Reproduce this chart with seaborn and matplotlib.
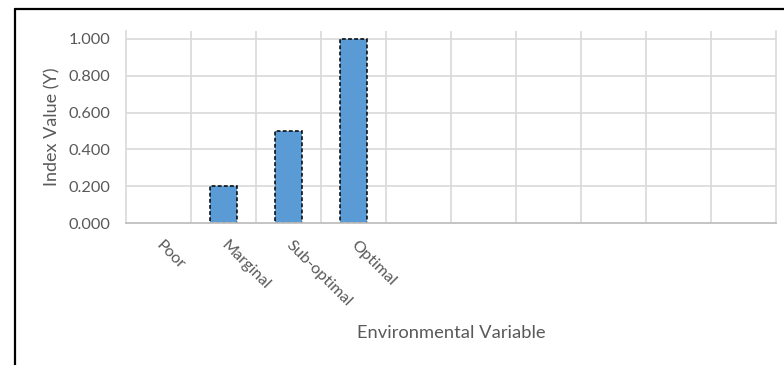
import matplotlib
matplotlib.use("Agg")
import matplotlib.pyplot as plt
from matplotlib.lines import Line2D
import numpy as np
import pandas as pd
import seaborn as sns

# Index value for each condition class; remaining slots are left empty
categories = ["Poor", "Marginal", "Sub-optimal", "Optimal", "", " ", "  ", "   ", "    ", "     "]
values = [0.0, 0.2, 0.5, 1.0, np.nan, np.nan, np.nan, np.nan, np.nan, np.nan]
y_ticks = [0.0, 0.2, 0.4, 0.6, 0.8, 1.0]

df = pd.DataFrame({"category": categories, "value": values})

sns.set_theme(style="white")
plt.rcParams["font.family"] = ["Lato", "DejaVu Sans"]

W, H = 784, 365
PX = 72 / 100  # points per pixel at 100 dpi
fig = plt.figure(figsize=(W / 100, H / 100), dpi=100)
ax = fig.add_axes([126 / W, 1 - 223 / H, (776 - 126) / W, (223 - 31) / H])

sns.barplot(data=df, x="category", y="value", order=categories,
            color="#5B9BD5", saturation=1, width=0.41,
            edgecolor="black", linewidth=1.1, linestyle=(0, (2.5, 1.5)),
            ax=ax, zorder=3)
# zero-height bars have nothing to show
for p in ax.patches:
    if p.get_height() == 0:
        p.set_visible(False)

n = len(categories)
ax.set_xlim(-0.5, n - 0.5)
ax.set_ylim(0, 1.043)

# horizontal gridlines
ax.set_yticks(y_ticks)
ax.set_yticklabels([f"{t:.3f}" for t in y_ticks])
for t in y_ticks[1:]:
    ax.axhline(t, color="#D9D9D9", lw=1.2, zorder=1)
# vertical gridlines between categories
for b in np.arange(0.5, n - 0.5, 1.0):
    ax.axvline(b, color="#D9D9D9", lw=1.2, zorder=1)

ax.spines["top"].set_visible(False)
ax.spines["right"].set_color("#D9D9D9")
ax.spines["right"].set_linewidth(1.2)
ax.spines["left"].set_color("#D9D9D9")
ax.spines["left"].set_linewidth(1.2)
ax.spines["bottom"].set_color("#BFBFBF")
ax.spines["bottom"].set_linewidth(1.3)
ax.spines["bottom"].set_zorder(4)

ax.tick_params(axis="both", length=0, colors="#595959", labelsize=11.7)
ax.tick_params(axis="y", pad=16 * PX)
ax.set_xticks(range(n))
ax.set_xticklabels(categories, rotation=-45, ha="left", va="center",
                   rotation_mode="anchor")
ax.tick_params(axis="x", pad=20 * PX)

ax.set_xlabel("Environmental Variable", color="#595959", fontsize=13.2)
ax.set_ylabel("Index Value (Y)", color="#595959", fontsize=13)
ax.xaxis.set_label_coords(0.5, -(325 - 223) / (223 - 31))
ax.yaxis.set_label_coords(-(126 - 60) / (776 - 126), 0.5)

# outer chart border (continues past the right and bottom edges)
fig.add_artist(Line2D([15 / W, 15 / W], [0, 1 - 8.5 / H], transform=fig.transFigure,
                      color="black", lw=1.6))
fig.add_artist(Line2D([15 / W, 1], [1 - 8.5 / H, 1 - 8.5 / H], transform=fig.transFigure,
                      color="black", lw=1.6))

fig.savefig("out.png", dpi=100)
